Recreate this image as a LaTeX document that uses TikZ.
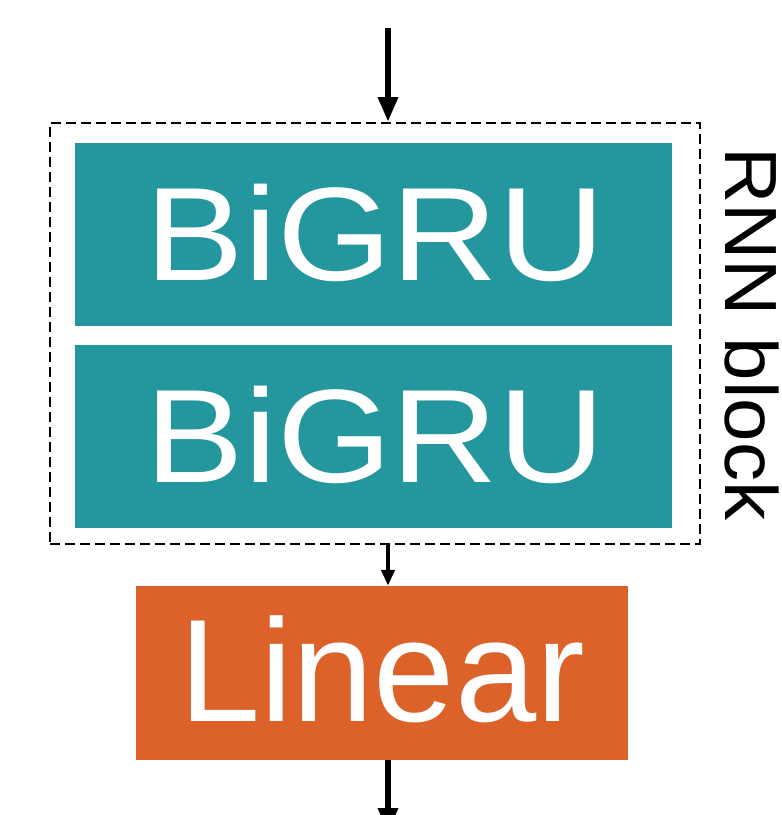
\documentclass[tikz,border=0pt]{standalone}
\usepackage{fontspec}
\setmainfont{Liberation Sans}
\newfontfamily\grufont[FakeStretch=1.11]{Liberation Sans}
\newfontfamily\tagfont[FakeStretch=1.055]{Liberation Sans}
\usetikzlibrary{arrows.meta}
\definecolor{gruteal}{RGB}{35,151,157}
\definecolor{linorange}{RGB}{220,98,42}
\tikzset{
  grubox/.style={fill=gruteal, minimum width=597pt, minimum height=183pt, inner sep=0pt},
  grutext/.style={text=white, inner sep=0pt, text height=95pt, text depth=0pt,
    font=\grufont\fontsize{133}{133}\selectfont},
  linbox/.style={fill=linorange, minimum width=492pt, minimum height=174pt, inner sep=0pt},
  lintext/.style={text=white, inner sep=0pt, text height=105pt, text depth=0pt,
    font=\fontsize{146}{146}\selectfont},
  blockframe/.style={draw=black, line width=2pt, dash pattern=on 10pt off 5pt,
    minimum width=650pt, minimum height=421pt, inner sep=0pt},
  flow/.style={line width=#1, -{Triangle[width=19pt,length=25pt]}},
  smallflow/.style={line width=4pt, -{Triangle[width=13pt,length=16pt]}},
}
\begin{document}
\begin{tikzpicture}[x=1pt, y=-1pt]
  \useasboundingbox (0,0) rectangle (782,815);
  \clip (0,0) rectangle (782,815);

  % dashed frame around the recurrent layers
  \node[blockframe] (rnn) at (375,333.5) {};
  \node[rotate=-90, anchor=base west, inner sep=0pt,
        font=\tagfont\fontsize{74}{74}\selectfont] (lbl) at (725,147) {RNN block};

  % two stacked bidirectional GRU layers
  \node[grubox] (gru1) at (373.5,234.5) {};
  \node[grubox] (gru2) at (373.5,436.5) {};
  \node[grutext] (gru1t) at ([xshift=2pt, yshift=2pt]gru1.center) {BiGRU};
  \node[grutext] (gru2t) at ([xshift=2pt, yshift=2pt]gru2.center) {BiGRU};

  % output projection
  \node[linbox] (lin) at (382,673) {};
  \node[lintext] (lint) at ([yshift=4.5pt]lin.center) {Linear};

  % signal flow
  \coordinate (in) at (388,28);
  \coordinate (out) at (388,833);
  \draw[flow=6pt] (in) -- (in |- rnn.north);
  \draw[smallflow] (in |- rnn.south) -- (in |- lin.north);
  \draw[flow=6pt] (in |- lin.south) -- (out);
\end{tikzpicture}
\end{document}
